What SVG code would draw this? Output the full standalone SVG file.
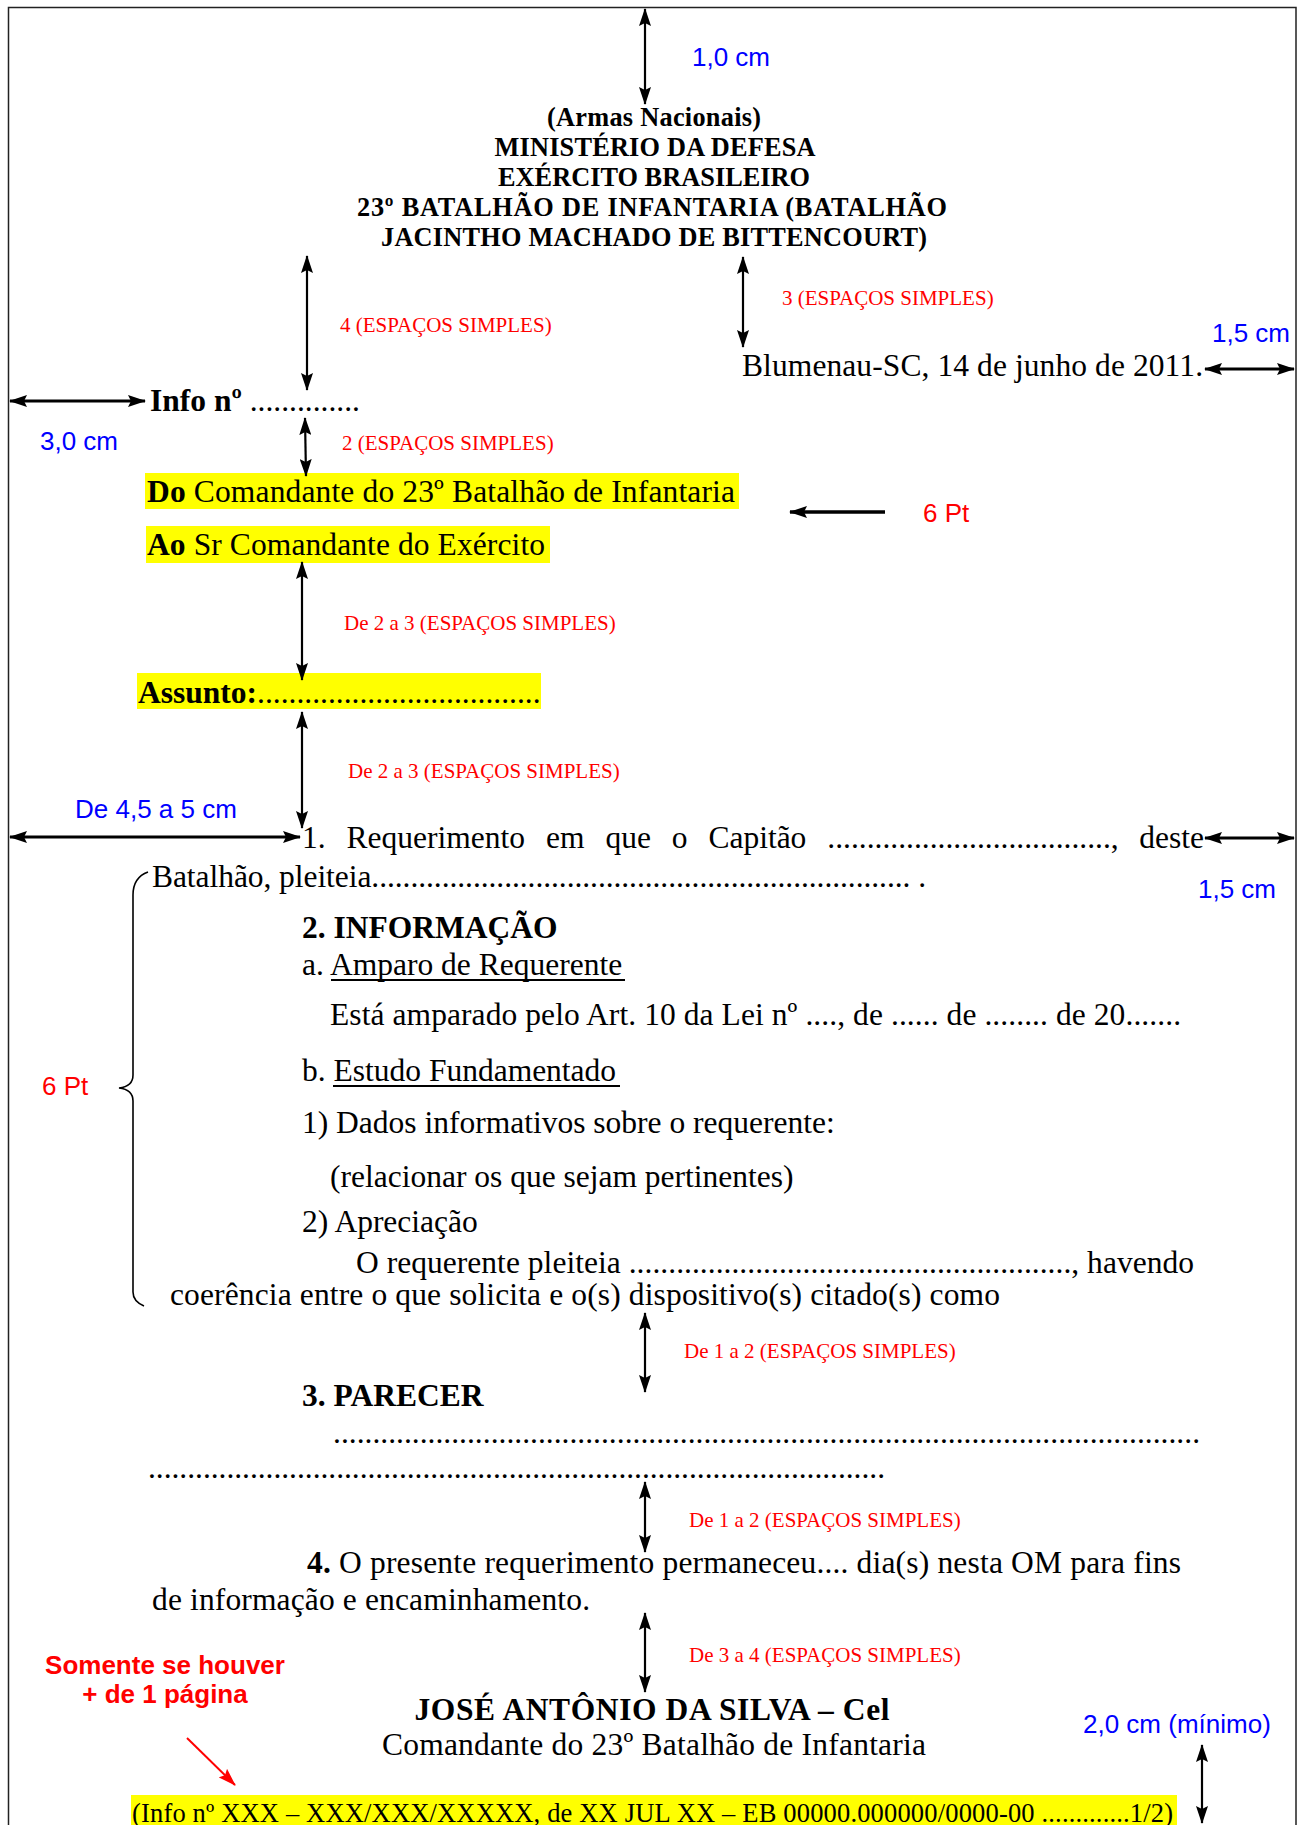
<svg xmlns="http://www.w3.org/2000/svg" width="1302" height="1825" viewBox="0 0 1302 1825">
<style>
.t{font-family:"Liberation Serif","Times New Roman",serif;font-size:31.5px;fill:#000}
.bd{font-weight:bold}
.h{font-family:"Liberation Serif","Times New Roman",serif;font-size:26.3px;font-weight:bold;fill:#000;text-anchor:middle}
.r{font-family:"Liberation Serif","Times New Roman",serif;font-size:21px;fill:#ff0000}
.b{font-family:"Liberation Sans",Arial,sans-serif;font-size:26px;fill:#0000ff}
.rs{font-family:"Liberation Sans",Arial,sans-serif;font-size:26px;fill:#ff0000}
.rb{font-family:"Liberation Sans",Arial,sans-serif;font-size:26px;font-weight:bold;fill:#ff0000;text-anchor:middle}
.ft{font-family:"Liberation Serif","Times New Roman",serif;font-size:26.5px;fill:#000}
.ar{stroke:#000;stroke-width:2.2;fill:none;marker-start:url(#a);marker-end:url(#a)}
.arh{stroke:#000;stroke-width:3;fill:none;marker-start:url(#a);marker-end:url(#a)}
.hl{fill:#ffff00}
</style>
<defs>
<marker id="a" viewBox="0 0 18 12" refX="17" refY="6" markerWidth="18" markerHeight="12" markerUnits="userSpaceOnUse" orient="auto-start-reverse"><path d="M0,0 L18,6 L0,12 L3,6 z" fill="#000"/></marker>
<marker id="ar" viewBox="0 0 18 12" refX="17" refY="6" markerWidth="18" markerHeight="12" markerUnits="userSpaceOnUse" orient="auto"><path d="M0,0 L18,6 L0,12 L3,6 z" fill="#ff0000"/></marker>
</defs>
<rect width="1302" height="1825" fill="#fff"/>
<path d="M8.5,1825 L8.5,7.5 L1296,7.5 L1296,1825" fill="none" stroke="#222" stroke-width="1.5"/>

<g id="highlights">
<rect class="hl" x="145" y="473" width="594" height="36"/>
<rect class="hl" x="146" y="526" width="404" height="37"/>
<rect class="hl" x="137" y="673" width="404" height="36"/>
<rect class="hl" x="131" y="1795" width="1046" height="30"/>
</g>

<g id="header">
<text class="h" x="654" y="126" textLength="214">(Armas Nacionais)</text>
<text class="h" x="655" y="156" textLength="321">MINISTÉRIO DA DEFESA</text>
<text class="h" x="654" y="186" textLength="312">EXÉRCITO BRASILEIRO</text>
<text class="h" x="652" y="216" textLength="590">23º BATALHÃO DE INFANTARIA (BATALHÃO</text>
<text class="h" x="654" y="246" textLength="546">JACINTHO MACHADO DE BITTENCOURT)</text>
</g>

<g id="date"><text class="t" x="742" y="376" textLength="461">Blumenau-SC, 14 de junho de 2011.</text></g>
<g id="info"><text class="t" x="150" y="411"><tspan class="bd">Info nº</tspan> ..............</text></g>
<g id="do"><text class="t" x="147" y="502" textLength="588"><tspan class="bd">Do</tspan> Comandante do 23º Batalhão de Infantaria</text></g>
<g id="ao"><text class="t" x="147" y="555" textLength="398"><tspan class="bd">Ao</tspan> Sr Comandante do Exército</text></g>
<g id="assunto"><text class="t" x="138" y="703"><tspan class="bd">Assunto:</tspan>....................................</text></g>

<g id="item1">
<text class="t" y="848"><tspan x="302">1.</tspan><tspan x="346.5">Requerimento</tspan><tspan x="546">em</tspan><tspan x="605.4">que</tspan><tspan x="671.8">o</tspan><tspan x="708.4">Capitão</tspan><tspan x="827.3">....................................,</tspan></text>
<text class="t" x="1204" y="848" text-anchor="end">deste</text>
<text class="t" x="152" y="887" textLength="774">Batalhão, pleiteia..................................................................... .</text>
</g>

<g id="item2">
<text class="t bd" x="302" y="938">2. INFORMAÇÃO</text>
<text class="t" x="302" y="975">a. Amparo de Requerente</text>
<text class="t" x="330" y="1025" textLength="851">Está amparado pelo Art. 10 da Lei nº ...., de ...... de ........ de 20.......</text>
<text class="t" x="302" y="1081">b. Estudo Fundamentado</text>
<text class="t" x="302" y="1133">1) Dados informativos sobre o requerente:</text>
<text class="t" x="330" y="1187">(relacionar os que sejam pertinentes)</text>
<text class="t" x="302" y="1232">2) Apreciação</text>
<text class="t" x="356" y="1273" textLength="838">O requerente pleiteia ........................................................, havendo</text>
<text class="t" x="170" y="1305" textLength="830">coerência entre o que solicita e o(s) dispositivo(s) citado(s) como</text>
<line x1="331" y1="980" x2="625" y2="980" stroke="#000" stroke-width="2"/>
<line x1="333" y1="1086" x2="620" y2="1086" stroke="#000" stroke-width="2"/>
</g>

<g id="item3">
<text class="t bd" x="302" y="1406">3. PARECER</text>
<text class="t" x="333" y="1443" textLength="867">..............................................................................................................</text>
<text class="t" x="148" y="1478" textLength="737">..............................................................................................</text>
</g>

<g id="item4">
<text class="t" x="307" y="1573" textLength="874"><tspan class="bd">4.</tspan> O presente requerimento permaneceu.... dia(s) nesta OM para fins</text>
<text class="t" x="152" y="1610" textLength="438">de informação e encaminhamento.</text>
</g>

<g id="signature">
<text class="t bd" x="652" y="1720" text-anchor="middle" textLength="475">JOSÉ ANTÔNIO DA SILVA – Cel</text>
<text class="t" x="654" y="1755" text-anchor="middle" textLength="544">Comandante do 23º Batalhão de Infantaria</text>
</g>

<g id="footer"><text class="ft" x="132" y="1822" textLength="1041">(Info nº XXX – XXX/XXX/XXXXX, de XX JUL XX – EB 00000.000000/0000-00  .............1/2)</text></g>

<g id="labels">
<text class="b" x="692" y="66">1,0 cm</text>
<text class="r" x="340" y="332">4 (ESPAÇOS SIMPLES)</text>
<text class="r" x="782" y="305">3 (ESPAÇOS SIMPLES)</text>
<text class="b" x="1212" y="342">1,5 cm</text>
<text class="b" x="40" y="450">3,0 cm</text>
<text class="r" x="342" y="450">2 (ESPAÇOS SIMPLES)</text>
<text class="rs" x="923" y="522">6 Pt</text>
<text class="r" x="344" y="630">De 2 a 3 (ESPAÇOS SIMPLES)</text>
<text class="r" x="348" y="778">De 2 a 3 (ESPAÇOS SIMPLES)</text>
<text class="b" x="75" y="818">De 4,5 a 5 cm</text>
<text class="b" x="1198" y="898">1,5 cm</text>
<text class="rs" x="42" y="1095">6 Pt</text>
<text class="r" x="684" y="1358">De 1 a 2 (ESPAÇOS SIMPLES)</text>
<text class="r" x="689" y="1527">De 1 a 2 (ESPAÇOS SIMPLES)</text>
<text class="r" x="689" y="1662">De 3 a 4 (ESPAÇOS SIMPLES)</text>
<text class="rb" x="165" y="1674">Somente se houver</text>
<text class="rb" x="165" y="1703">+ de 1 página</text>
<text class="b" x="1083" y="1733">2,0 cm (mínimo)</text>
</g>

<g id="connectors">
<line class="ar" x1="645" y1="9" x2="645" y2="104"/>
<line class="ar" x1="307" y1="256" x2="307" y2="390"/>
<line class="ar" x1="743" y1="257" x2="743" y2="347"/>
<line class="arh" x1="1205" y1="369" x2="1294" y2="369"/>
<line class="arh" x1="10" y1="401" x2="145" y2="401"/>
<line class="ar" x1="305" y1="418" x2="306" y2="476"/>
<line x1="885" y1="512" x2="790" y2="512" stroke="#000" stroke-width="3.5" marker-end="url(#a)"/>
<line class="ar" x1="302" y1="562" x2="302" y2="680"/>
<line class="ar" x1="302" y1="712" x2="302" y2="828"/>
<line class="arh" x1="10" y1="837" x2="300" y2="837"/>
<line class="arh" x1="1205" y1="838" x2="1294" y2="838"/>
<line class="ar" x1="645" y1="1313" x2="645" y2="1392"/>
<line class="ar" x1="645" y1="1482" x2="645" y2="1552"/>
<line class="ar" x1="645" y1="1613" x2="645" y2="1692"/>
<line class="ar" x1="1202" y1="1745" x2="1202" y2="1823"/>
<line x1="187" y1="1738" x2="235" y2="1785" stroke="#ff0000" stroke-width="2" marker-end="url(#ar)"/>
<path d="M148,872 C137,876 133,884 133,895 L133,1075 C133,1083 128,1087 119,1088 C128,1089 133,1093 133,1101 L133,1292 C133,1299 137,1303 144,1306" fill="none" stroke="#000" stroke-width="1.6"/>
</g>
</svg>
